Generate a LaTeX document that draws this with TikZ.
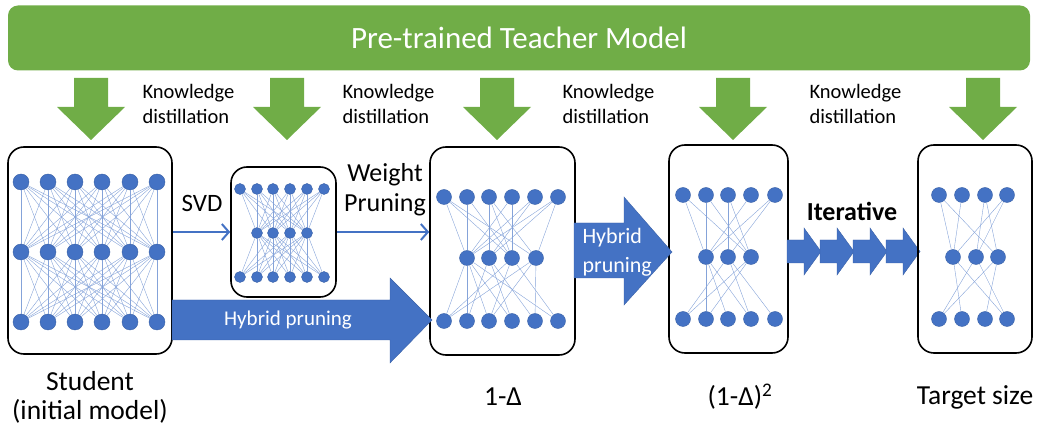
\documentclass[tikz,border=0pt]{standalone}
\usepackage{fontspec}
\setmainfont{Carlito}
\usetikzlibrary{arrows.meta, positioning, calc}
\definecolor{tgreen}{RGB}{112,173,71}
\definecolor{nblue}{RGB}{68,114,196}

\begin{document}
\begin{tikzpicture}[x=1pt, y=-1pt,
  netbox/.style={draw, line width=1.6pt, rounded corners=16pt, inner sep=0pt},
  neuron/.style={circle, fill=nblue, draw=nblue!85!black, line width=0.4pt, inner sep=0pt, minimum size=16pt},
  smallneuron/.style={neuron, minimum size=11pt},
  syn/.style={draw=nblue!65, line width=0.4pt},
  kd/.style={align=left, anchor=west, font=\fontsize{20.5}{25}\selectfont},
  thinarrow/.style={draw=nblue, line width=2pt, -{Straight Barb[length=7pt, width=16pt, line width=2pt]}},
  blockarrow/.style={fill=nblue, draw=nblue!85!black, line width=0.4pt},
  caption/.style={align=center, font=\fontsize{27.5}{29}\selectfont}]

\useasboundingbox (0,0) rectangle (1037,430);

% Teacher model
\node[fill=tgreen, rounded corners=10pt, minimum width=1022pt, minimum height=65pt,
  text=white, font=\fontsize{31}{36}\selectfont] (teacher) at (519,38) {Pre-trained Teacher Model};

% Knowledge distillation arrows
\foreach \cx in {91,287,497,733,983}
  \fill[tgreen] (\cx-17,78) -- (\cx+17,78) -- (\cx+17,107) -- (\cx+34,107)
    -- (\cx,140) -- (\cx-34,107) -- (\cx-17,107) -- cycle;
\foreach \lx [count=\i] in {139,339,559,806}
  \node[kd] (kd\i) at (\lx,104) {Knowledge\\distillation};

% Student (initial model)
\node[netbox, minimum width=164pt, minimum height=207pt] (stu) at (90,250.5) {};
\foreach \x [count=\c] in {21,48,75,102,130,157} {
  \node[neuron] (st1-\c) at (\x,182) {};
  \node[neuron] (st2-\c) at (\x,252) {};
  \node[neuron] (st3-\c) at (\x,322) {};
}
\foreach \i in {1,...,6}
  \foreach \j in {1,...,6} {
    \draw[syn] (st1-\i) -- (st2-\j);
    \draw[syn] (st2-\i) -- (st3-\j);
  }
\node[caption] (stucap) at (90,397) {Student\\(initial model)};

% SVD model
\node[netbox, minimum width=105pt, minimum height=130pt] (svdnet) at (283.5,232) {};
\foreach \x [count=\c] in {240,257,273,290,307,324} {
  \node[smallneuron] (sv1-\c) at (\x,189) {};
  \node[smallneuron] (sv3-\c) at (\x,277) {};
}
\foreach \x [count=\c] in {257,273,290,307}
  \node[smallneuron] (sv2-\c) at (\x,233) {};
\foreach \i in {1,...,6}
  \foreach \j in {1,...,4} {
    \draw[syn] (sv1-\i) -- (sv2-\j);
    \draw[syn] (sv2-\j) -- (sv3-\i);
  }
\node[font=\fontsize{25}{29}\selectfont] (svdlab) at (202,203) {SVD};
\draw[thinarrow] (stu.east |- svdnet.west) -- (svdnet.west);

% Pruned once
\node[netbox, minimum width=145pt, minimum height=208pt] (pa) at (502.5,251) {};
\foreach \x [count=\c] in {444,467,489,512,535,558} {
  \node[neuron, minimum size=15pt] (pa1-\c) at (\x,197) {};
  \node[neuron, minimum size=15pt] (pa3-\c) at (\x,321) {};
}
\foreach \x [count=\c] in {467,489,512,536}
  \node[neuron, minimum size=15pt] (pa2-\c) at (\x,258) {};
\foreach \a/\b in {1/1,1/3,1/4,2/1,2/3,3/2,3/3,3/4,4/1,4/3,5/1,5/2,6/1,6/2,6/4}
  \draw[syn] (pa1-\a) -- (pa2-\b);
\foreach \a/\b in {1/1,1/2,1/3,1/4,1/6,2/2,2/4,2/5,3/1,3/3,3/6,4/1,4/3,4/5}
  \draw[syn] (pa2-\a) -- (pa3-\b);
\node[caption] (pacap) at (503,397) {1-Δ};

\node[font=\fontsize{26}{30}\selectfont, align=center] (wplab) at (385,190) {Weight\\Pruning};
\draw[thinarrow] (svdnet.east) -- (pa.west |- svdnet.east);

% Hybrid pruning (student to 1-D)
\fill[blockarrow] (172,300) -- (390,300) -- (390,278) -- (432,320) -- (390,363)
  -- (390,340) -- (172,340) -- cycle;
\node[text=white, font=\fontsize{21}{24}\selectfont] (hp1) at (288,320) {Hybrid pruning};

% Pruned twice
\node[netbox, minimum width=119pt, minimum height=208pt] (pb) at (728.5,249) {};
\foreach \x [count=\c] in {683,706,728,751,775} {
  \node[neuron, minimum size=15pt] (pb1-\c) at (\x,195) {};
  \node[neuron, minimum size=15pt] (pb3-\c) at (\x,319) {};
}
\foreach \x [count=\c] in {706,728,751}
  \node[neuron, minimum size=15pt] (pb2-\c) at (\x,257) {};
\foreach \a/\b in {1/1,1/3,2/1,2/3,3/2,3/3,4/1,5/1,5/2}
  \draw[syn] (pb1-\a) -- (pb2-\b);
\foreach \a/\b in {1/2,1/3,1/4,2/1,2/4,2/5,3/1,3/2}
  \draw[syn] (pb2-\a) -- (pb3-\b);
\node[caption] (pbcap) at (740,397) {(1-Δ)\textsuperscript{2}};

% Hybrid pruning (1-D to (1-D)^2)
\fill[blockarrow] (574,223) -- (624,223) -- (624,197) -- (672,252) -- (624,305)
  -- (624,278) -- (574,278) -- cycle;
\node[text=white, align=left, anchor=west, font=\fontsize{22}{29}\selectfont] (hp2) at (579,252) {Hybrid\\pruning};

% Iterative
\foreach \ax in {787,820,853,886}
  \fill[blockarrow] (\ax,240) -- (\ax+17,240) -- (\ax+17,228) -- (\ax+34,251.5)
    -- (\ax+17,275) -- (\ax+17,263) -- (\ax,263) -- cycle;
\node[font=\bfseries\fontsize{26}{30}\selectfont] (iter) at (852,211) {Iterative};

% Target size
\node[netbox, minimum width=114pt, minimum height=208pt] (tgt) at (975,249) {};
\foreach \x [count=\c] in {939,962,985,1007} {
  \node[neuron, minimum size=15pt] (tg1-\c) at (\x,195) {};
  \node[neuron, minimum size=15pt] (tg3-\c) at (\x,319) {};
}
\foreach \x [count=\c] in {953,976,998}
  \node[neuron, minimum size=15pt] (tg2-\c) at (\x,257) {};
\foreach \a/\b in {1/1,1/3,2/1,3/2,3/3,4/1,4/2}
  \draw[syn] (tg1-\a) -- (tg2-\b);
\foreach \a/\b in {1/2,1/4,2/1,2/4,3/1,3/3}
  \draw[syn] (tg2-\a) -- (tg3-\b);
\node[caption] (tgcap) at (975,397) {Target size};
\end{tikzpicture}
\end{document}
